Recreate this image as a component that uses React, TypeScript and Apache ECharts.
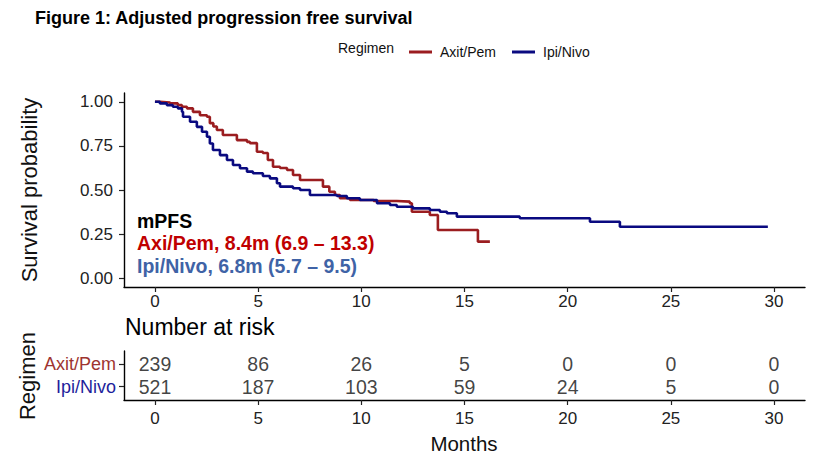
import React, { useEffect, useRef } from "react";
import * as echarts from "echarts";

// ---- Data ----
const groups = ["Axit/Pem", "Ipi/Nivo"];

// Kaplan-Meier steps: time (months) from which the survival value holds
const axitTime = [0, 0.24, 0.73, 1.11, 1.31, 1.55, 1.84, 2.18, 2.52, 2.66, 2.83, 3.0, 3.29, 3.97, 4.46, 4.6, 4.94, 5.23, 5.47, 5.72, 6.06, 6.4, 6.69, 7.03, 8.14, 8.45, 8.72, 8.96, 9.45, 10.6, 11.72, 12.35, 12.45, 13.32, 13.71, 15.65, 16.23];
const axitSurv = [1.0, 0.996, 0.991, 0.981, 0.972, 0.963, 0.943, 0.924, 0.915, 0.879, 0.86, 0.84, 0.812, 0.783, 0.773, 0.766, 0.717, 0.71, 0.67, 0.632, 0.625, 0.613, 0.585, 0.557, 0.519, 0.49, 0.472, 0.453, 0.443, 0.438, 0.434, 0.425, 0.377, 0.358, 0.273, 0.207, 0.207];

const ipiTime = [0, 0.24, 0.58, 0.87, 1.11, 1.31, 1.36, 1.7, 2.03, 2.28, 2.52, 2.66, 2.81, 3.15, 3.49, 3.78, 4.12, 4.46, 4.75, 5.23, 5.57, 5.91, 6.06, 6.69, 7.03, 7.51, 8.82, 9.3, 9.93, 10.76, 11.39, 11.72, 12.5, 13.32, 13.81, 14.15, 14.63, 17.68, 21.08, 22.53, 29.7];
const ipiSurv = [1.0, 0.991, 0.981, 0.972, 0.963, 0.943, 0.915, 0.887, 0.858, 0.83, 0.802, 0.764, 0.727, 0.698, 0.67, 0.642, 0.623, 0.604, 0.595, 0.579, 0.566, 0.538, 0.519, 0.51, 0.5, 0.472, 0.466, 0.453, 0.443, 0.425, 0.415, 0.405, 0.396, 0.387, 0.377, 0.368, 0.349, 0.34, 0.32, 0.292, 0.292];

// Number at risk table
const riskTimes = [0, 5, 10, 15, 20, 25, 30];
const riskAxit = [239, 86, 26, 5, 0, 0, 0];
const riskIpi = [521, 187, 103, 59, 24, 5, 0];

// Axis ticks
const xTicks = [0, 5, 10, 15, 20, 25, 30];
const yTicks = [0, 0.25, 0.5, 0.75, 1.0];

// mPFS annotation
const annoTitle = "mPFS";
const annoAxit = "Axi/Pem, 8.4m (6.9 \u2013 13.3)";
const annoIpi = "Ipi/Nivo, 6.8m (5.7 \u2013 9.5)";

// ---- Styles ----
const FONT = "'Liberation Sans', Arial, Helvetica, sans-serif";
const RED = "#9B1D20";
const BLUE = "#0A0A80";
const RED_LABEL = "#9E3430";
const BLUE_LABEL = "#1E1E9C";
const RED_ANNO = "#C00000";
const BLUE_ANNO = "#3F63A6";

export default function App() {
  const ref = useRef<HTMLDivElement>(null);

  useEffect(() => {
    if (!ref.current) return;
    const chart = echarts.init(ref.current, null, { renderer: "svg" });

    const xAxisBase = (gridIndex: number, margin: number) => ({
      gridIndex,
      type: "value",
      min: -1.5,
      max: 31.5,
      splitLine: { show: false },
      axisLine: { show: true, onZero: false, lineStyle: { color: "#000", width: 1.4 } },
      axisTick: { show: true, customValues: xTicks, length: 5, lineStyle: { color: "#222", width: 1.2 } },
      axisLabel: { customValues: xTicks, fontSize: 17, color: "#222", margin, fontFamily: FONT },
    });

    const option: any = {
      animation: false,
      backgroundColor: "#fff",
      textStyle: { fontFamily: FONT },
      legend: {
        data: groups,
        left: 404,
        top: 40,
        icon: "rect",
        itemWidth: 23,
        itemHeight: 3,
        itemGap: 16,
        textStyle: { fontSize: 14, color: "#111", fontFamily: FONT, padding: [0, 0, 0, 3] },
      },
      grid: [
        { left: 124, top: 93, width: 681, height: 194 },
        { left: 124, top: 351, width: 681, height: 49 },
      ],
      xAxis: [xAxisBase(0, 6), xAxisBase(1, 10)],
      yAxis: [
        {
          gridIndex: 0,
          type: "value",
          min: -0.05,
          max: 1.05,
          splitLine: { show: false },
          axisLine: { show: true, onZero: false, lineStyle: { color: "#000", width: 1.4 } },
          axisTick: { show: true, customValues: yTicks, length: 5, lineStyle: { color: "#222", width: 1.2 } },
          axisLabel: {
            customValues: yTicks,
            formatter: (v: number) => v.toFixed(2),
            fontSize: 17,
            color: "#222",
            margin: 11,
            fontFamily: FONT,
          },
        },
        {
          gridIndex: 1,
          type: "value",
          min: 0.4,
          max: 2.6,
          splitLine: { show: false },
          axisLine: { show: true, onZero: false, lineStyle: { color: "#000", width: 1.4 } },
          axisTick: { show: true, customValues: [1, 2], length: 5, lineStyle: { color: "#222", width: 1.2 } },
          axisLabel: {
            customValues: [1, 2],
            formatter: (v: number) => (v === 2 ? "{a|" + groups[0] + "}" : "{b|" + groups[1] + "}"),
            margin: 8,
            rich: {
              a: { color: RED_LABEL, fontSize: 18, fontFamily: FONT },
              b: { color: BLUE_LABEL, fontSize: 18, fontFamily: FONT },
            },
          },
        },
      ],
      series: [
        {
          name: groups[0],
          type: "line",
          step: "end",
          xAxisIndex: 0,
          yAxisIndex: 0,
          symbol: "none",
          showSymbol: false,
          data: axitTime.map((t, i) => [t, axitSurv[i]]),
          lineStyle: { color: RED, width: 2.6 },
          itemStyle: { color: RED },
        },
        {
          name: groups[1],
          type: "line",
          step: "end",
          xAxisIndex: 0,
          yAxisIndex: 0,
          symbol: "none",
          showSymbol: false,
          data: ipiTime.map((t, i) => [t, ipiSurv[i]]),
          lineStyle: { color: BLUE, width: 2.6 },
          itemStyle: { color: BLUE },
        },
        {
          name: "risk-axit",
          type: "scatter",
          xAxisIndex: 1,
          yAxisIndex: 1,
          silent: true,
          symbolSize: 1,
          itemStyle: { color: "rgba(0,0,0,0)" },
          data: riskTimes.map((t, i) => [t, 2, riskAxit[i]]),
          label: {
            show: true,
            position: "inside",
            formatter: (p: any) => String(p.value[2]),
            fontSize: 19.5,
            color: "#111",
            fontFamily: FONT,
          },
        },
        {
          name: "risk-ipi",
          type: "scatter",
          xAxisIndex: 1,
          yAxisIndex: 1,
          silent: true,
          symbolSize: 1,
          itemStyle: { color: "rgba(0,0,0,0)" },
          data: riskTimes.map((t, i) => [t, 1, riskIpi[i]]),
          label: {
            show: true,
            position: "inside",
            formatter: (p: any) => String(p.value[2]),
            fontSize: 19.5,
            color: "#111",
            fontFamily: FONT,
          },
        },
      ],
      graphic: [
        {
          type: "text",
          left: 35,
          top: 9,
          style: {
            text: "Figure 1: Adjusted progression free survival",
            font: "bold 18px " + FONT,
            fill: "#000",
          },
        },
        {
          type: "text",
          x: 338,
          y: 48,
          style: { text: "Regimen", font: "14px " + FONT, fill: "#111", verticalAlign: "middle" },
        },
        {
          type: "text",
          x: 29,
          y: 190,
          rotation: Math.PI / 2,
          style: { text: "Survival probability", font: "22px " + FONT, fill: "#111", align: "center", verticalAlign: "middle" },
        },
        {
          type: "text",
          x: 137,
          y: 221,
          style: { text: annoTitle, font: "bold 19.5px " + FONT, fill: "#000", verticalAlign: "middle" },
        },
        {
          type: "text",
          x: 137,
          y: 243,
          style: { text: annoAxit, font: "bold 19.5px " + FONT, fill: RED_ANNO, verticalAlign: "middle" },
        },
        {
          type: "text",
          x: 137,
          y: 266,
          style: { text: annoIpi, font: "bold 19.5px " + FONT, fill: BLUE_ANNO, verticalAlign: "middle" },
        },
        {
          type: "text",
          x: 125,
          y: 327,
          style: { text: "Number at risk", font: "23px " + FONT, fill: "#000", verticalAlign: "middle" },
        },
        {
          type: "text",
          x: 27,
          y: 376,
          rotation: Math.PI / 2,
          style: { text: "Regimen", font: "22px " + FONT, fill: "#111", align: "center", verticalAlign: "middle" },
        },
        {
          type: "text",
          x: 464,
          y: 443,
          style: { text: "Months", font: "20.5px " + FONT, fill: "#111", align: "center", verticalAlign: "middle" },
        },
      ],
    };

    chart.setOption(option);
    return () => chart.dispose();
  }, []);

  return <div ref={ref} style={{ position: "fixed", left: 0, top: 0, width: 824, height: 466 }} />;
}
